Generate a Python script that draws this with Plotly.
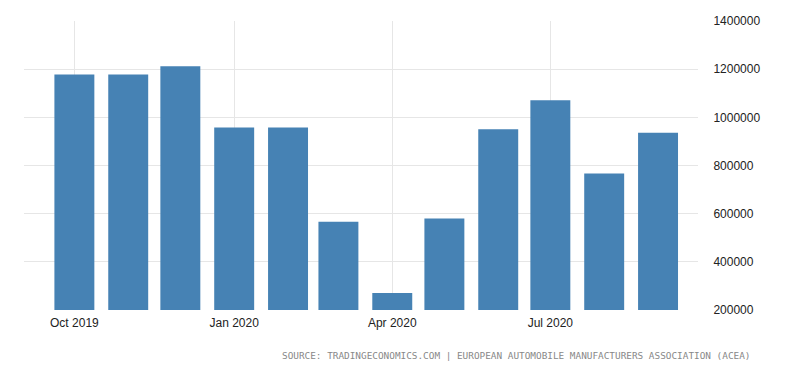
import plotly.graph_objects as go

months = ["2019-10-01", "2019-11-01", "2019-12-01", "2020-01-01", "2020-02-01", "2020-03-01",
          "2020-04-01", "2020-05-01", "2020-06-01", "2020-07-01", "2020-08-01", "2020-09-01"]
registrations = [1178000, 1178000, 1212000, 958000, 958000, 566000,
                 271000, 580000, 950000, 1071000, 767000, 936000]
x_tick_vals = ["2019-10-01", "2020-01-01", "2020-04-01", "2020-07-01"]
x_tick_text = ["Oct 2019", "Jan 2020", "Apr 2020", "Jul 2020"]
y_tick_vals = [200000, 400000, 600000, 800000, 1000000, 1200000, 1400000]
source_text = "SOURCE: TRADINGECONOMICS.COM | EUROPEAN AUTOMOBILE MANUFACTURERS ASSOCIATION (ACEA)"

DAY_MS = 86400000

fig = go.Figure(go.Bar(
    x=months, y=registrations,
    width=[23 * DAY_MS] * len(months),
    marker=dict(color="#4682B4", line=dict(width=0)),
))

fig.update_layout(
    width=792, height=365,
    margin=dict(l=16, r=102, t=13, b=63),
    paper_bgcolor="white", plot_bgcolor="white",
    showlegend=False,
    font=dict(family="Liberation Sans, Arial, sans-serif", size=12, color="#222222"),
    xaxis=dict(
        type="date", automargin=False,
        range=["2019-09-02", "2020-09-24"],
        tickvals=x_tick_vals, ticktext=x_tick_text,
        showgrid=True, gridcolor="#e6e6e6", gridwidth=1,
        zeroline=False, showline=False, ticks="outside", ticklen=2,
        tickcolor="rgba(0,0,0,0)",
        tickfont=dict(size=12, color="#222222"),
    ),
    yaxis=dict(
        side="right", automargin=False,
        range=[200000, 1400000],
        tickvals=y_tick_vals, ticktext=[str(v) for v in y_tick_vals],
        showgrid=True, gridcolor="#e6e6e6", gridwidth=1,
        zeroline=False, showline=False,
        ticks="outside", ticklen=12, tickcolor="rgba(0,0,0,0)",
        tickfont=dict(size=12, color="#222222"),
    ),
    annotations=[dict(
        text=source_text, xref="paper", yref="paper",
        x=1.080, y=-0.159, xanchor="right", yanchor="middle",
        showarrow=False,
        font=dict(family="DejaVu Sans Mono, monospace", size=9.4, color="#888888"),
    )],
)

fig.write_html("out.html")
